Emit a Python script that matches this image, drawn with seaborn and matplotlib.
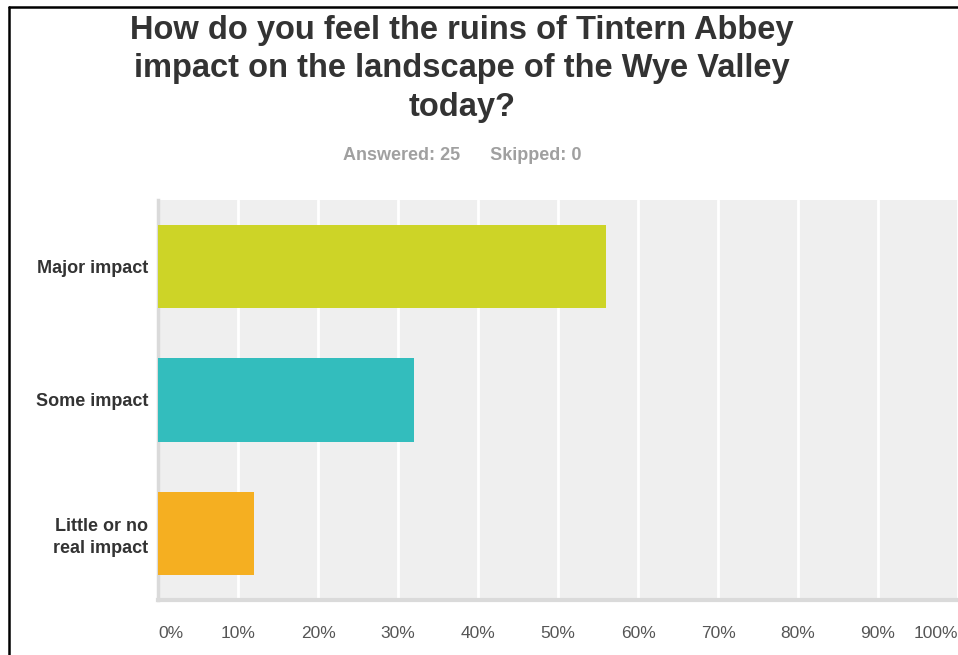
import matplotlib
matplotlib.use("Agg")
import matplotlib.pyplot as plt
from matplotlib.lines import Line2D
import seaborn as sns
import pandas as pd

# Datos de la encuesta
answers = ["Major impact", "Some impact", "Little or no\nreal impact"]
percent = [56, 32, 12]
bar_colors = ["#CDD427", "#33BDBD", "#F5AF21"]
x_ticks = [0, 10, 20, 30, 40, 50, 60, 70, 80, 90, 100]
x_labels = [f"{t}%" for t in x_ticks]

title = "How do you feel the ruins of Tintern Abbey\nimpact on the landscape of the Wye Valley\ntoday?"
subtitle = "Answered: 25      Skipped: 0"

df = pd.DataFrame({"answer": answers, "percent": percent})

sns.set_theme(style="white")
plt.rcParams["font.family"] = ["Liberation Sans", "DejaVu Sans"]

fig = plt.figure(figsize=(9.58, 6.55), dpi=100)
ax = fig.add_axes([158 / 958, 55 / 655, 800 / 958, 400 / 655])

sns.barplot(data=df, x="percent", y="answer", hue="answer", palette=bar_colors,
            orient="h", width=0.625, saturation=1, legend=False, ax=ax,
            linewidth=0, edgecolor="none", zorder=3)

ax.set_facecolor("#EFEFEF")
ax.set_xlim(0, 100)
ax.set_ylim(2.5, -0.5)
ax.set_xticks(x_ticks)
ax.xaxis.grid(True, color="white", linewidth=2, zorder=1)
ax.set_axisbelow(True)
ax.set_xlabel("")
ax.set_ylabel("")

# Spines
for side in ["top", "right"]:
    ax.spines[side].set_visible(False)
ax.spines["left"].set_color("#DADADA")
ax.spines["left"].set_linewidth(2.5)
ax.spines["bottom"].set_color("#DADADA")
ax.spines["bottom"].set_linewidth(3)

ax.tick_params(axis="both", length=0)
ax.set_xticklabels(x_labels, fontsize=12.5, color="#555555")
ax.tick_params(axis="x", pad=19)
xt = ax.get_xticklabels()
xt[0].set_ha("left")
xt[-1].set_ha("right")
ax.set_yticklabels(answers, fontsize=13, fontweight="bold", color="#333333",
                   ha="right", multialignment="right", linespacing=1.35)
ax.tick_params(axis="y", pad=7)

# Titulo y subtitulo
fig.text(462 / 958, 1 - 69 / 655, title, ha="center", va="center",
         fontsize=23.5, fontweight="bold", color="#333333", linespacing=1.32)
fig.text(462 / 958, 1 - 156 / 655, subtitle, ha="center", va="center",
         fontsize=13, fontweight="bold", color="#A0A0A0")

# Marco negro
fig.add_artist(Line2D([8.5 / 958, 8.5 / 958], [0, 1 - 6.5 / 655],
                      transform=fig.transFigure, color="black", linewidth=1.8))
fig.add_artist(Line2D([8.5 / 958, 1], [1 - 6.5 / 655, 1 - 6.5 / 655],
                      transform=fig.transFigure, color="black", linewidth=1.8))

fig.savefig("out.png", dpi=100)
